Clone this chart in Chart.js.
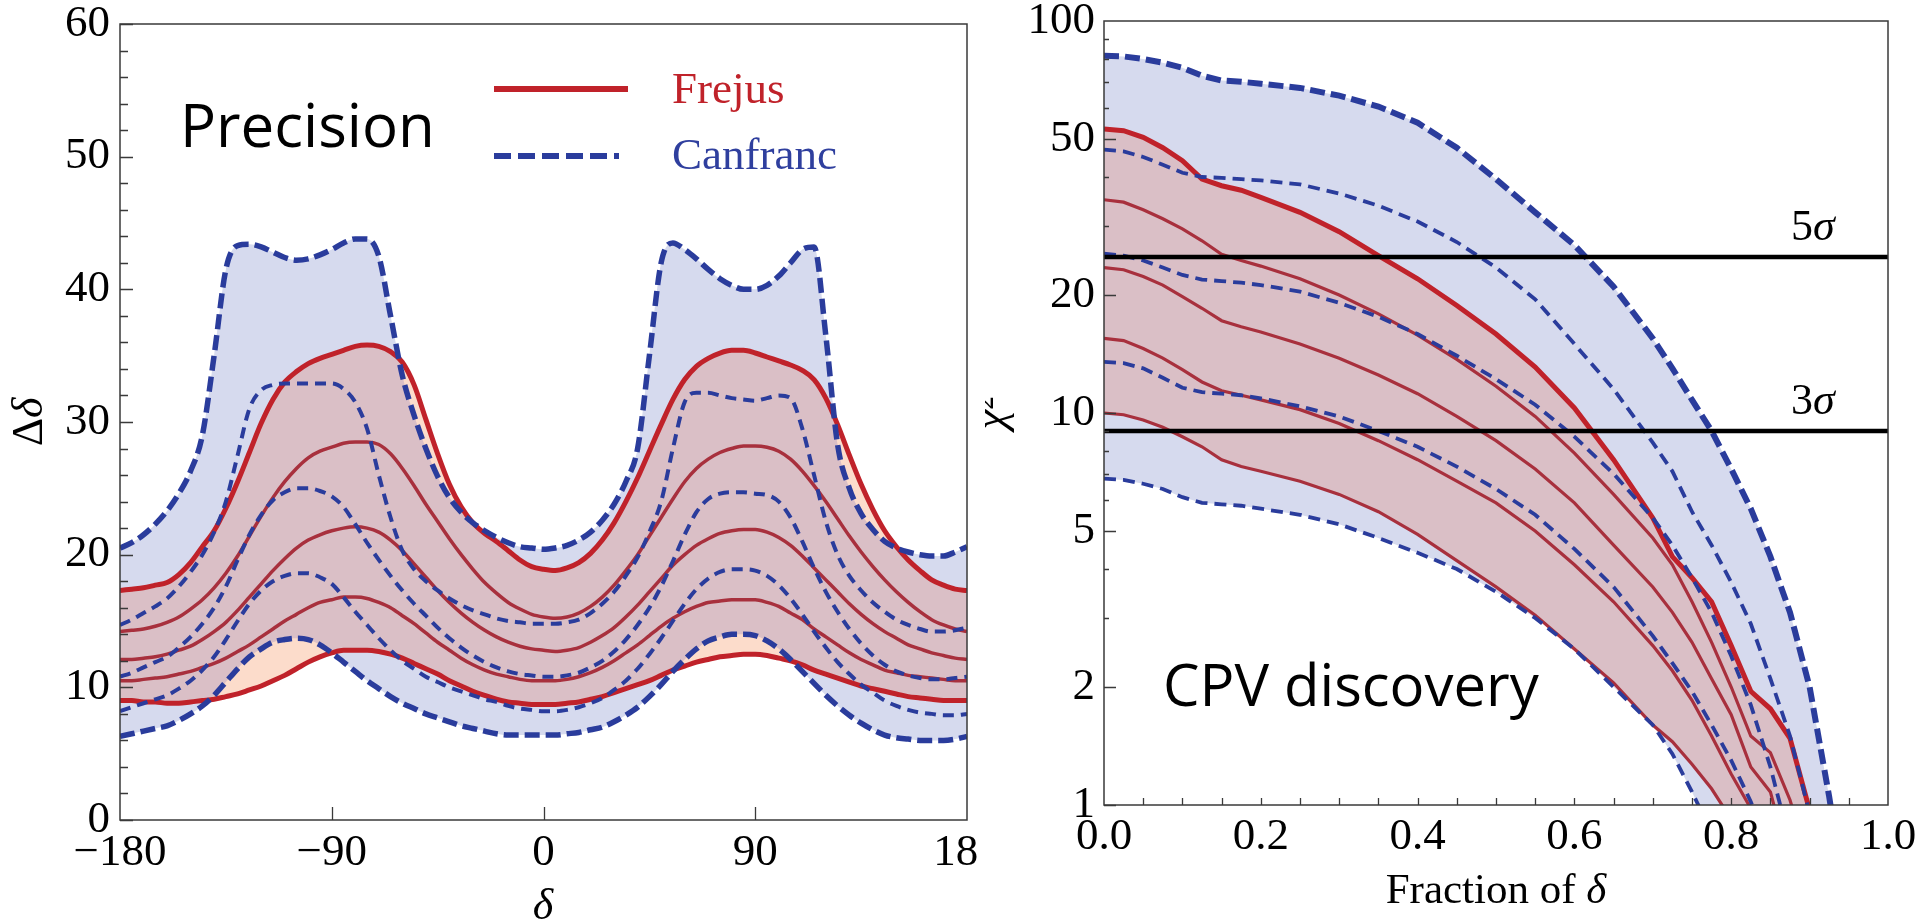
<!DOCTYPE html>
<html>
<head>
<meta charset="utf-8">
<script src="https://cdn.jsdelivr.net/npm/chart.js@4.4.0/dist/chart.umd.min.js"></script>
<style>
  html, body { margin: 0; padding: 0; background: #fff; }
  body { width: 1917px; height: 923px; position: relative; overflow: hidden; }
  .panel { position: absolute; top: 0; }
  #leftWrap { left: 0; }
  #rightWrap { left: 985px; }
</style>
</head>
<body>
<div class="panel" id="leftWrap"><canvas id="precisionChart" width="978" height="923"></canvas></div>
<div class="panel" id="rightWrap"><canvas id="cpvChart" width="932" height="923"></canvas></div>
<script>
/* ---------- Precision panel: Δδ (deg) vs δ ---------- */
const deltaGrid = [-180,-175,-170,-165,-160,-155,-150,-145,-140,-135,-130,-125,-120,-115,-110,-105,-100,-95,-90,-85,
  -80,-75,-70,-65,-60,-55,-50,-45,-40,-35,-30,-25,-20,-15,-10,-5,0,5,10,15,20,25,30,35,40,45,50,55,60,65,
  70,75,80,85,90,95,100,105,110,115,120,125,130,135,140,145,150,155,160,165,170,175,180];

const frejusPrecTop = [17.3,17.4,17.5,17.7,17.9,18.5,19.4,20.6,21.8,23.5, 25.5,27.7,29.9,31.7,33.0,33.8,34.4,34.8,35.1,35.4,
  35.7,35.8,35.7,35.3,34.5,32.8,30.2,27.6,25.3,23.6, 22.4,21.6,21.0,20.3,19.6,19.1,18.9,18.8,19.0,19.4,
  20.1,21.1,22.4,24.0,25.8,27.8,29.8,31.7,33.2,34.2, 34.8,35.2,35.4,35.4,35.2,34.9,34.6,34.3,33.9,33.2,
  31.8,29.8,27.5,25.3,23.4,21.8,20.6,19.6,18.8,18.1,17.7,17.4,17.3];
const frejusPrec2 = [14.2,14.3,14.4,14.6,14.9,15.3,15.9,16.6,17.5,18.6, 19.9,21.4,22.9,24.3,25.5,26.5,27.3,27.8,28.1,28.4,
  28.5,28.5,28.3,27.6,26.5,25.2,23.8,22.5,21.2,20.0, 18.9,17.9,17.1,16.4,15.9,15.5,15.3,15.2,15.3,15.6,
  16.1,16.8,17.7,18.8,20.0,21.4,22.8,24.2,25.5,26.5, 27.2,27.7,28.0,28.2,28.2,28.1,27.8,27.2,26.3,25.2,
  24.0,22.7,21.4,20.2,19.1,18.1,17.2,16.4,15.7,15.1,14.7,14.4,14.2];
const frejusPrec3 = [12.1,12.1,12.2,12.3,12.5,12.8,13.1,13.6,14.2,14.9, 15.8,16.8,17.8,18.8,19.7,20.5,21.1,21.5,21.8,22.0,
  22.1,22.0,21.7,21.1,20.3,19.3,18.3,17.3,16.4,15.6, 14.9,14.3,13.8,13.4,13.1,12.9,12.8,12.7,12.8,13.0,
  13.4,13.9,14.5,15.3,16.2,17.2,18.2,19.2,20.0,20.7, 21.2,21.6,21.8,21.9,21.9,21.7,21.3,20.7,19.9,19.0,
  18.1,17.2,16.3,15.5,14.8,14.2,13.7,13.2,12.9,12.6,12.4,12.2,12.1];
const frejusPrec4 = [10.5,10.5,10.6,10.7,10.8,11.0,11.2,11.5,11.8,12.2, 12.7,13.2,13.8,14.4,15.0,15.5,16.0,16.4,16.6,16.8,
  16.8,16.7,16.4,16.0,15.4,14.8,14.1,13.4,12.8,12.2, 11.7,11.3,11.0,10.8,10.6,10.5,10.5,10.5,10.6,10.8,
  11.1,11.5,12.0,12.6,13.2,13.9,14.6,15.2,15.7,16.1, 16.4,16.5,16.6,16.6,16.6,16.4,16.1,15.6,15.1,14.4,
  13.8,13.2,12.6,12.1,11.7,11.3,11.1,10.9,10.8,10.7,10.6,10.5,10.5];
const frejusPrecBottom = [9.0,9.0,8.9,8.9,8.8,8.8,8.9,9.0,9.1,9.3, 9.5,9.8,10.1,10.5,10.9,11.4,11.9,12.3,12.6,12.8,
  12.8,12.8,12.7,12.5,12.2,11.8,11.4,11.0,10.5,10.1, 9.7,9.4,9.1,8.9,8.8,8.7,8.7,8.7,8.8,8.9,
  9.1,9.3,9.6,9.9,10.2,10.5,10.9,11.3,11.6,11.9, 12.1,12.3,12.4,12.5,12.5,12.4,12.2,12.0,11.7,11.3,
  11.0,10.7,10.4,10.1,9.9,9.7,9.5,9.3,9.2,9.1,9.0,9.0,9.0];

const canfrancPrecTop = [20.5,20.9,21.5,22.3,23.3,24.6,26.3,29.0,35.0,41.5, 43.3,43.4,43.2,42.8,42.4,42.2,42.3,42.6,43.0,43.5,
  43.8,43.8,42.5,38.0,33.5,30.5,28.0,25.9,24.3,23.2, 22.4,21.8,21.3,20.9,20.6,20.5,20.4,20.5,20.7,21.1,
  21.7,22.6,23.8,25.5,28.0,35.0,42.0,43.5,43.0,42.3, 41.5,40.8,40.3,40.0,40.0,40.3,41.0,42.0,43.0,43.2,
  36.5,28.3,25.0,23.1,21.9,21.0,20.5,20.2,20.0,19.9,19.9,20.2,20.6];
const canfrancPrec2 = [14.7,15.1,15.6,16.1,16.7,17.6,18.7,20.0,21.7,24.0, 27.5,31.0,32.4,32.8,32.9,32.9,32.9,32.9,32.9,32.5,
  31.5,29.5,26.0,22.8,20.3,18.9,18.0,17.3,16.7,16.2, 15.8,15.5,15.2,15.0,14.9,14.8,14.8,14.8,14.9,15.1,
  15.6,16.3,17.2,18.4,19.8,21.7,24.0,28.0,31.5,32.2, 32.2,32.0,31.8,31.7,31.6,31.8,32.0,31.8,29.5,26.0,
  22.5,20.0,18.4,17.3,16.4,15.7,15.1,14.7,14.4,14.2,14.2,14.3,14.5];
const canfrancPrec3 = [10.8,11.1,11.5,11.9,12.3,13.0,13.8,14.8,16.0,17.6, 19.6,21.5,23.0,24.1,24.7,25.0,25.0,24.8,24.4,23.6,
  22.3,20.9,19.6,18.4,17.3,16.3,15.4,14.5,13.7,13.0, 12.4,11.9,11.5,11.2,11.0,10.9,10.8,10.8,10.9,11.1,
  11.5,12.0,12.7,13.6,14.7,16.0,17.6,19.5,21.5,23.2, 24.2,24.6,24.7,24.7,24.6,24.5,24.0,22.8,21.0,19.0,
  17.2,15.7,14.4,13.3,12.4,11.7,11.2,10.9,10.7,10.6,10.6,10.7,10.8];
const canfrancPrec4 = [8.2,8.5,8.8,9.1,9.4,9.9,10.5,11.3,12.3,13.6, 15.0,16.3,17.3,18.0,18.4,18.6,18.6,18.3,17.8,16.8,
  15.7,14.7,13.7,12.8,12.0,11.4,10.8,10.4,10.0,9.7, 9.4,9.1,8.9,8.6,8.4,8.3,8.2,8.2,8.3,8.5,
  8.8,9.2,9.8,10.5,11.4,12.5,13.7,15.0,16.3,17.4, 18.2,18.7,18.9,18.9,18.8,18.4,17.7,16.7,15.5,14.2,
  13.0,11.9,11.0,10.2,9.6,9.0,8.6,8.3,8.1,8.0,7.9,7.9,8.0];
const canfrancPrecBottom = [6.3,6.5,6.7,6.9,7.1,7.5,8.0,8.6,9.4,10.4, 11.4,12.3,12.9,13.4,13.6,13.7,13.6,13.2,12.6,11.9,
  11.2,10.5,9.9,9.3,8.8,8.4,8.0,7.7,7.4,7.1, 6.9,6.7,6.5,6.4,6.4,6.4,6.4,6.4,6.5,6.6,
  6.8,7.0,7.4,7.9,8.5,9.3,10.2,11.2,12.1,12.9, 13.5,13.8,14.0,14.0,13.9,13.5,12.9,12.1,11.2,10.3,
  9.4,8.6,7.9,7.3,6.8,6.4,6.2,6.1,6.0,6.0,6.0,6.1,6.3];

const precisionXTicks = [-180, -90, 0, 90, 180];
const precisionYTicks = [0, 10, 20, 30, 40, 50, 60];

/* ---------- CPV discovery panel: χ² vs fraction of δ ---------- */
const fracGrid = [0,0.025,0.05,0.075,0.1,0.125,0.15,0.175,0.2,0.25,0.3,0.35,0.4,0.45,0.5,0.55,0.6,0.65,0.7,
  0.725,0.75,0.775,0.8,0.825,0.85,0.875,0.9,0.925,0.95];

const frejusCpvTop = [53,52.5,50.5,47.5,44,39.5,38,37,35.5,32.5,29,25.2,22,18.8,15.9,13.1,10.3,7.6,5.4,4.3,3.8,3.3,2.55,1.95,1.76,1.48,0.97,0.6,0.4];
const frejusCpv2 = [35,34.5,33,31.3,29.5,27.5,25.4,24.5,23.7,22,20,17.9,15.8,13.7,11.7,9.8,7.9,6.2,4.8,4.1,3.3,2.6,2.0,1.5,1.36,1.03,0.7,0.45,0.3];
const frejusCpv3 = [23.5,23.2,22.3,21.2,19.8,18.5,17.2,16.6,16.1,15.0,13.8,12.5,11.2,9.8,8.5,7.2,5.9,4.6,3.6,3.1,2.6,2.1,1.7,1.25,1.08,0.7,0.5,0.35,0.25];
const frejusCpv4 = [15.5,15.3,14.6,13.8,12.9,12.0,11.4,11.1,10.8,10.2,9.4,8.5,7.6,6.7,5.9,5.0,4.1,3.3,2.55,2.2,1.85,1.5,1.2,0.98,0.7,0.5,0.35,0.25,0.2];
const frejusCpvBottom = [10,9.9,9.6,9.2,8.7,8.2,7.6,7.3,7.1,6.7,6.2,5.6,4.9,4.2,3.6,3.05,2.5,2.05,1.6,1.45,1.27,1.1,0.92,0.7,0.5,0.4,0.3,0.25,0.2];

const canfrancCpvTop = [81.5,81.2,80.0,78.3,76.0,72.5,70.5,70.0,69.2,67.5,64.5,60.5,55.0,47.5,39.5,32.5,26.8,21.0,15.5,13.0,10.8,9.0,7.2,5.7,4.3,3.1,2.0,1.05,0.5];
const canfrancCpv2 = [47,46.5,45,43,41,40,39.8,39.5,39.2,38.3,36.3,33.8,30.8,27.3,23.5,19.5,15.0,11.5,8.4,7.1,5.6,4.6,3.7,2.9,2.1,1.5,0.95,0.6,0.4];
const canfrancCpv3 = [25.5,25.2,24.5,23.5,22.5,21.9,21.7,21.5,21.2,20.4,19.1,17.6,15.9,14.0,12.2,10.5,8.7,7.0,5.4,4.6,3.8,3.1,2.4,1.8,1.25,0.8,0.5,0.35,0.25];
const canfrancCpv4 = [13.5,13.4,13.0,12.3,11.6,11.3,11.2,11.1,10.9,10.4,9.8,9.0,8.2,7.3,6.4,5.5,4.5,3.6,2.7,2.3,1.95,1.6,1.3,1.02,0.75,0.5,0.35,0.25,0.2];
const canfrancCpvBottom = [6.8,6.75,6.6,6.4,6.1,5.9,5.85,5.8,5.7,5.5,5.2,4.8,4.4,4.0,3.5,3.0,2.5,2.0,1.6,1.35,1.08,0.85,0.65,0.5,0.4,0.3,0.25,0.2,0.15];

const sigmaLevels = [25, 9];
const sigmaLabels = [['5', false, 'σ', true], ['3', false, 'σ', true]];
const cpvXTicks = [0, 0.2, 0.4, 0.6, 0.8, 1.0];
const cpvYTicks = [1, 2, 5, 10, 20, 50, 100];

const sites = ['Frejus', 'Canfranc'];

/* ---------- styles ---------- */
const COL = {
  blue: '#2a3c9c', red: '#c0222a', redThin: '#a8303d',
  lavender: '#d6daee', mauve: '#dabfc6', peach: '#fcdccb', none: 'rgba(0,0,0,0)'
};
const SERIF = "'Liberation Serif', 'Times New Roman', serif";
const tickFont = { family: SERIF, size: 45, lineHeight: 1.2 };

function pts(xs, ys) { return xs.map((x, i) => ({ x, y: ys[i] })); }

function curve(label, xs, ys, color, width, dash, smooth) {
  return {
    label, data: pts(xs, ys), borderColor: color, borderWidth: width, borderDash: dash || [],
    pointRadius: 0, fill: false, tension: 0,
    cubicInterpolationMode: smooth ? 'monotone' : 'default'
  };
}

function band(xs, ys, fill, smooth) {
  return {
    label: 'band', data: pts(xs, ys), borderColor: COL.none, borderWidth: 0,
    pointRadius: 0, fill, tension: 0,
    cubicInterpolationMode: smooth ? 'monotone' : 'default'
  };
}

// fixes the plot box in canvas pixels, no auto padding from labels
function boxAxis(size, horizontal) {
  return (scale) => {
    if (horizontal) scale.height = size; else scale.width = size;
    scale.paddingLeft = scale.paddingRight = scale.paddingTop = scale.paddingBottom = 0;
  };
}

function drawParts(ctx, parts, x, y, size, align) {
  const pieces = [];
  for (let i = 0; i < parts.length; i += 2) pieces.push([parts[i], parts[i + 1]]);
  const fontOf = (it) => `${it ? 'italic ' : ''}${size}px ${SERIF}`;
  let total = 0;
  pieces.forEach(([t, it]) => { ctx.font = fontOf(it); total += ctx.measureText(t).width; });
  let cx = align === 'center' ? x - total / 2 : x;
  pieces.forEach(([t, it]) => {
    ctx.font = fontOf(it);
    ctx.fillText(t, cx, y);
    cx += ctx.measureText(t).width;
  });
}

/* frame + inward tick marks */
const axisMarks = {
  id: 'axisMarks',
  afterDraw(chart, args, opts) {
    const { ctx, chartArea: a, scales: { x, y } } = chart;
    ctx.save();
    ctx.strokeStyle = '#3a3a3a';
    ctx.lineWidth = 1.5;
    ctx.strokeRect(a.left, a.top, a.right - a.left, a.bottom - a.top);
    ctx.lineWidth = 1.3;
    ctx.beginPath();
    opts.yMarks.forEach(([v, len]) => {
      const py = Math.round(y.getPixelForValue(v)) + 0.5;
      ctx.moveTo(a.left, py); ctx.lineTo(a.left + len, py);
    });
    opts.xMarks.forEach(([v, len]) => {
      const px = Math.round(x.getPixelForValue(v)) + 0.5;
      ctx.moveTo(px, a.bottom); ctx.lineTo(px, a.bottom - len);
    });
    ctx.stroke();
    ctx.restore();
  }
};

/* titles, legend and panel captions */
const captions = {
  id: 'captions',
  afterDraw(chart, args, opts) {
    const { ctx } = chart;
    ctx.save();
    ctx.fillStyle = '#000';
    ctx.textBaseline = 'alphabetic';
    opts.draw(ctx, chart);
    ctx.restore();
  }
};

/* ---------- left chart ---------- */
const precYMarks = [];
for (let v = 0; v <= 60; v += 2) precYMarks.push([v, v % 10 === 0 ? 13 : 8]);
const precXMarks = [[-90, 13], [0, 13], [90, 13]];

new Chart(document.getElementById('precisionChart'), {
  type: 'line',
  data: {
    datasets: [
      curve('Canfranc', deltaGrid, canfrancPrecTop, COL.blue, 5.5, [15, 6], true),
      curve('Canfranc', deltaGrid, canfrancPrec2, COL.blue, 4, [11, 7], true),
      curve('Canfranc', deltaGrid, canfrancPrec3, COL.blue, 4, [11, 7], true),
      curve('Canfranc', deltaGrid, canfrancPrec4, COL.blue, 4, [11, 7], true),
      curve('Canfranc', deltaGrid, canfrancPrecBottom, COL.blue, 5.5, [15, 6], true),
      curve('Frejus', deltaGrid, frejusPrecTop, COL.red, 5, null, true),
      curve('Frejus', deltaGrid, frejusPrec2, COL.redThin, 3.5, null, true),
      curve('Frejus', deltaGrid, frejusPrec3, COL.redThin, 3.5, null, true),
      curve('Frejus', deltaGrid, frejusPrec4, COL.redThin, 3.5, null, true),
      curve('Frejus', deltaGrid, frejusPrecBottom, COL.red, 5, null, true),
      // red-only slivers outside the Canfranc band
      band(deltaGrid, canfrancPrecTop, { target: 5, above: COL.none, below: COL.peach }, true),
      band(deltaGrid, canfrancPrecBottom, { target: 9, above: COL.peach, below: COL.none }, true),
      band(deltaGrid, frejusPrecTop, { target: 9, above: COL.mauve, below: COL.mauve }, true),
      band(deltaGrid, canfrancPrecTop, { target: 4, above: COL.lavender, below: COL.lavender }, true)
    ]
  },
  options: {
    responsive: false, animation: false, events: [],
    layout: { padding: { left: 0, top: 24, right: 11, bottom: 0 } },
    plugins: {
      legend: { display: false }, tooltip: { enabled: false },
      axisMarks: { yMarks: precYMarks, xMarks: precXMarks },
      captions: {
        draw(ctx) {
          ctx.font = "60px 'Open Sans', sans-serif";
          ctx.fillText('Precision', 180, 147);
          // legend
          ctx.lineCap = 'butt';
          ctx.strokeStyle = COL.red; ctx.lineWidth = 6;
          ctx.beginPath(); ctx.moveTo(494, 89); ctx.lineTo(628, 89); ctx.stroke();
          ctx.strokeStyle = COL.blue; ctx.setLineDash([17, 7]);
          ctx.beginPath(); ctx.moveTo(494, 156); ctx.lineTo(619, 156); ctx.stroke();
          ctx.setLineDash([]);
          ctx.font = `45px ${SERIF}`;
          ctx.fillStyle = COL.red; ctx.fillText(sites[0], 672, 103);
          ctx.fillStyle = '#2f3f9e'; ctx.fillText(sites[1], 672, 169);
          ctx.fillStyle = '#000';
          // axis titles
          drawParts(ctx, ['δ', true], 543, 919, 44, 'center');
          ctx.save();
          ctx.translate(42, 422); ctx.rotate(-Math.PI / 2);
          drawParts(ctx, ['Δ', false, 'δ', true], 0, 0, 44, 'center');
          ctx.restore();
        }
      }
    },
    scales: {
      x: {
        type: 'linear', min: -180, max: 180,
        afterBuildTicks: (s) => { s.ticks = precisionXTicks.map(v => ({ value: v })); },
        afterFit: boxAxis(103, true),
        grid: { display: false, drawTicks: false }, border: { display: false },
        ticks: { autoSkip: false, maxRotation: 0, padding: 6, color: '#000', font: tickFont,
          callback: v => (v < 0 ? '\u2212' + Math.abs(v) : String(v)) }
      },
      y: {
        type: 'linear', min: 0, max: 60,
        afterBuildTicks: (s) => { s.ticks = precisionYTicks.map(v => ({ value: v })); },
        afterFit: boxAxis(120, false),
        grid: { display: false, drawTicks: false }, border: { display: false },
        ticks: { padding: 10, color: '#000', font: tickFont }
      }
    }
  },
  plugins: [axisMarks, captions]
});

/* ---------- right chart ---------- */
const cpvYMarks = [];
[1, 10].forEach(dec => {
  for (let m = 1; m <= 9; m++) {
    const v = m * dec;
    cpvYMarks.push([v, cpvYTicks.includes(v) ? 12 : 5]);
  }
});
const cpvXMarks = [];
for (let i = 1; i < 20; i++) cpvXMarks.push([i * 0.05, 7]);

new Chart(document.getElementById('cpvChart'), {
  type: 'line',
  data: {
    datasets: [
      ...sigmaLevels.map(lv => ({
        label: 'sigma', data: [{ x: 0, y: lv }, { x: 1, y: lv }],
        borderColor: '#000', borderWidth: 4.5, pointRadius: 0, fill: false
      })),
      curve('Canfranc', fracGrid, canfrancCpvTop, COL.blue, 6, [15, 6]),
      curve('Canfranc', fracGrid, canfrancCpv2, COL.blue, 3.8, [12, 7]),
      curve('Canfranc', fracGrid, canfrancCpv3, COL.blue, 3.8, [12, 7]),
      curve('Canfranc', fracGrid, canfrancCpv4, COL.blue, 3.8, [12, 7]),
      curve('Canfranc', fracGrid, canfrancCpvBottom, COL.blue, 3.8, [12, 7]),
      curve('Frejus', fracGrid, frejusCpvTop, COL.red, 5),
      curve('Frejus', fracGrid, frejusCpv2, COL.redThin, 3.2),
      curve('Frejus', fracGrid, frejusCpv3, COL.redThin, 3.2),
      curve('Frejus', fracGrid, frejusCpv4, COL.redThin, 3.2),
      curve('Frejus', fracGrid, frejusCpvBottom, COL.redThin, 3.2),
      band(fracGrid, frejusCpvTop, { target: 11, above: COL.mauve, below: COL.mauve }),
      band(fracGrid, canfrancCpvTop, { target: 6, above: COL.lavender, below: COL.lavender })
    ]
  },
  options: {
    responsive: false, animation: false, events: [],
    layout: { padding: { left: 0, top: 21, right: 29, bottom: 0 } },
    plugins: {
      legend: { display: false }, tooltip: { enabled: false },
      axisMarks: { yMarks: cpvYMarks, xMarks: cpvXMarks },
      captions: {
        draw(ctx, chart) {
          const { x, y } = chart.scales;
          ctx.font = "58px 'Open Sans', sans-serif";
          ctx.fillText('CPV discovery', 178, 706);
          sigmaLevels.forEach((lv, i) => {
            drawParts(ctx, sigmaLabels[i], x.getPixelForValue(0.904), y.getPixelForValue(lv) - 17, 44, 'center');
          });
          drawParts(ctx, ['Fraction of ', false, 'δ', true], 511, 903, 43, 'center');
          ctx.save();
          ctx.translate(20, 413); ctx.rotate(-Math.PI / 2);
          drawParts(ctx, ['χ', true, '²', false], 0, 0, 44, 'center');
          ctx.restore();
        }
      }
    },
    scales: {
      x: {
        type: 'linear', min: 0, max: 1,
        afterBuildTicks: (s) => { s.ticks = cpvXTicks.map(v => ({ value: v })); },
        afterFit: boxAxis(118, true),
        grid: { display: false, drawTicks: false }, border: { display: false },
        ticks: { autoSkip: false, maxRotation: 0, padding: 5, color: '#000', font: tickFont,
          callback: v => v.toFixed(1) }
      },
      y: {
        type: 'logarithmic', min: 1, max: 100,
        afterBuildTicks: (s) => { s.ticks = cpvYTicks.map(v => ({ value: v })); },
        afterFit: boxAxis(119, false),
        grid: { display: false, drawTicks: false }, border: { display: false },
        ticks: { padding: 9, color: '#000', font: tickFont, callback: v => String(v) }
      }
    }
  },
  plugins: [axisMarks, captions]
});
</script>
</body>
</html>
